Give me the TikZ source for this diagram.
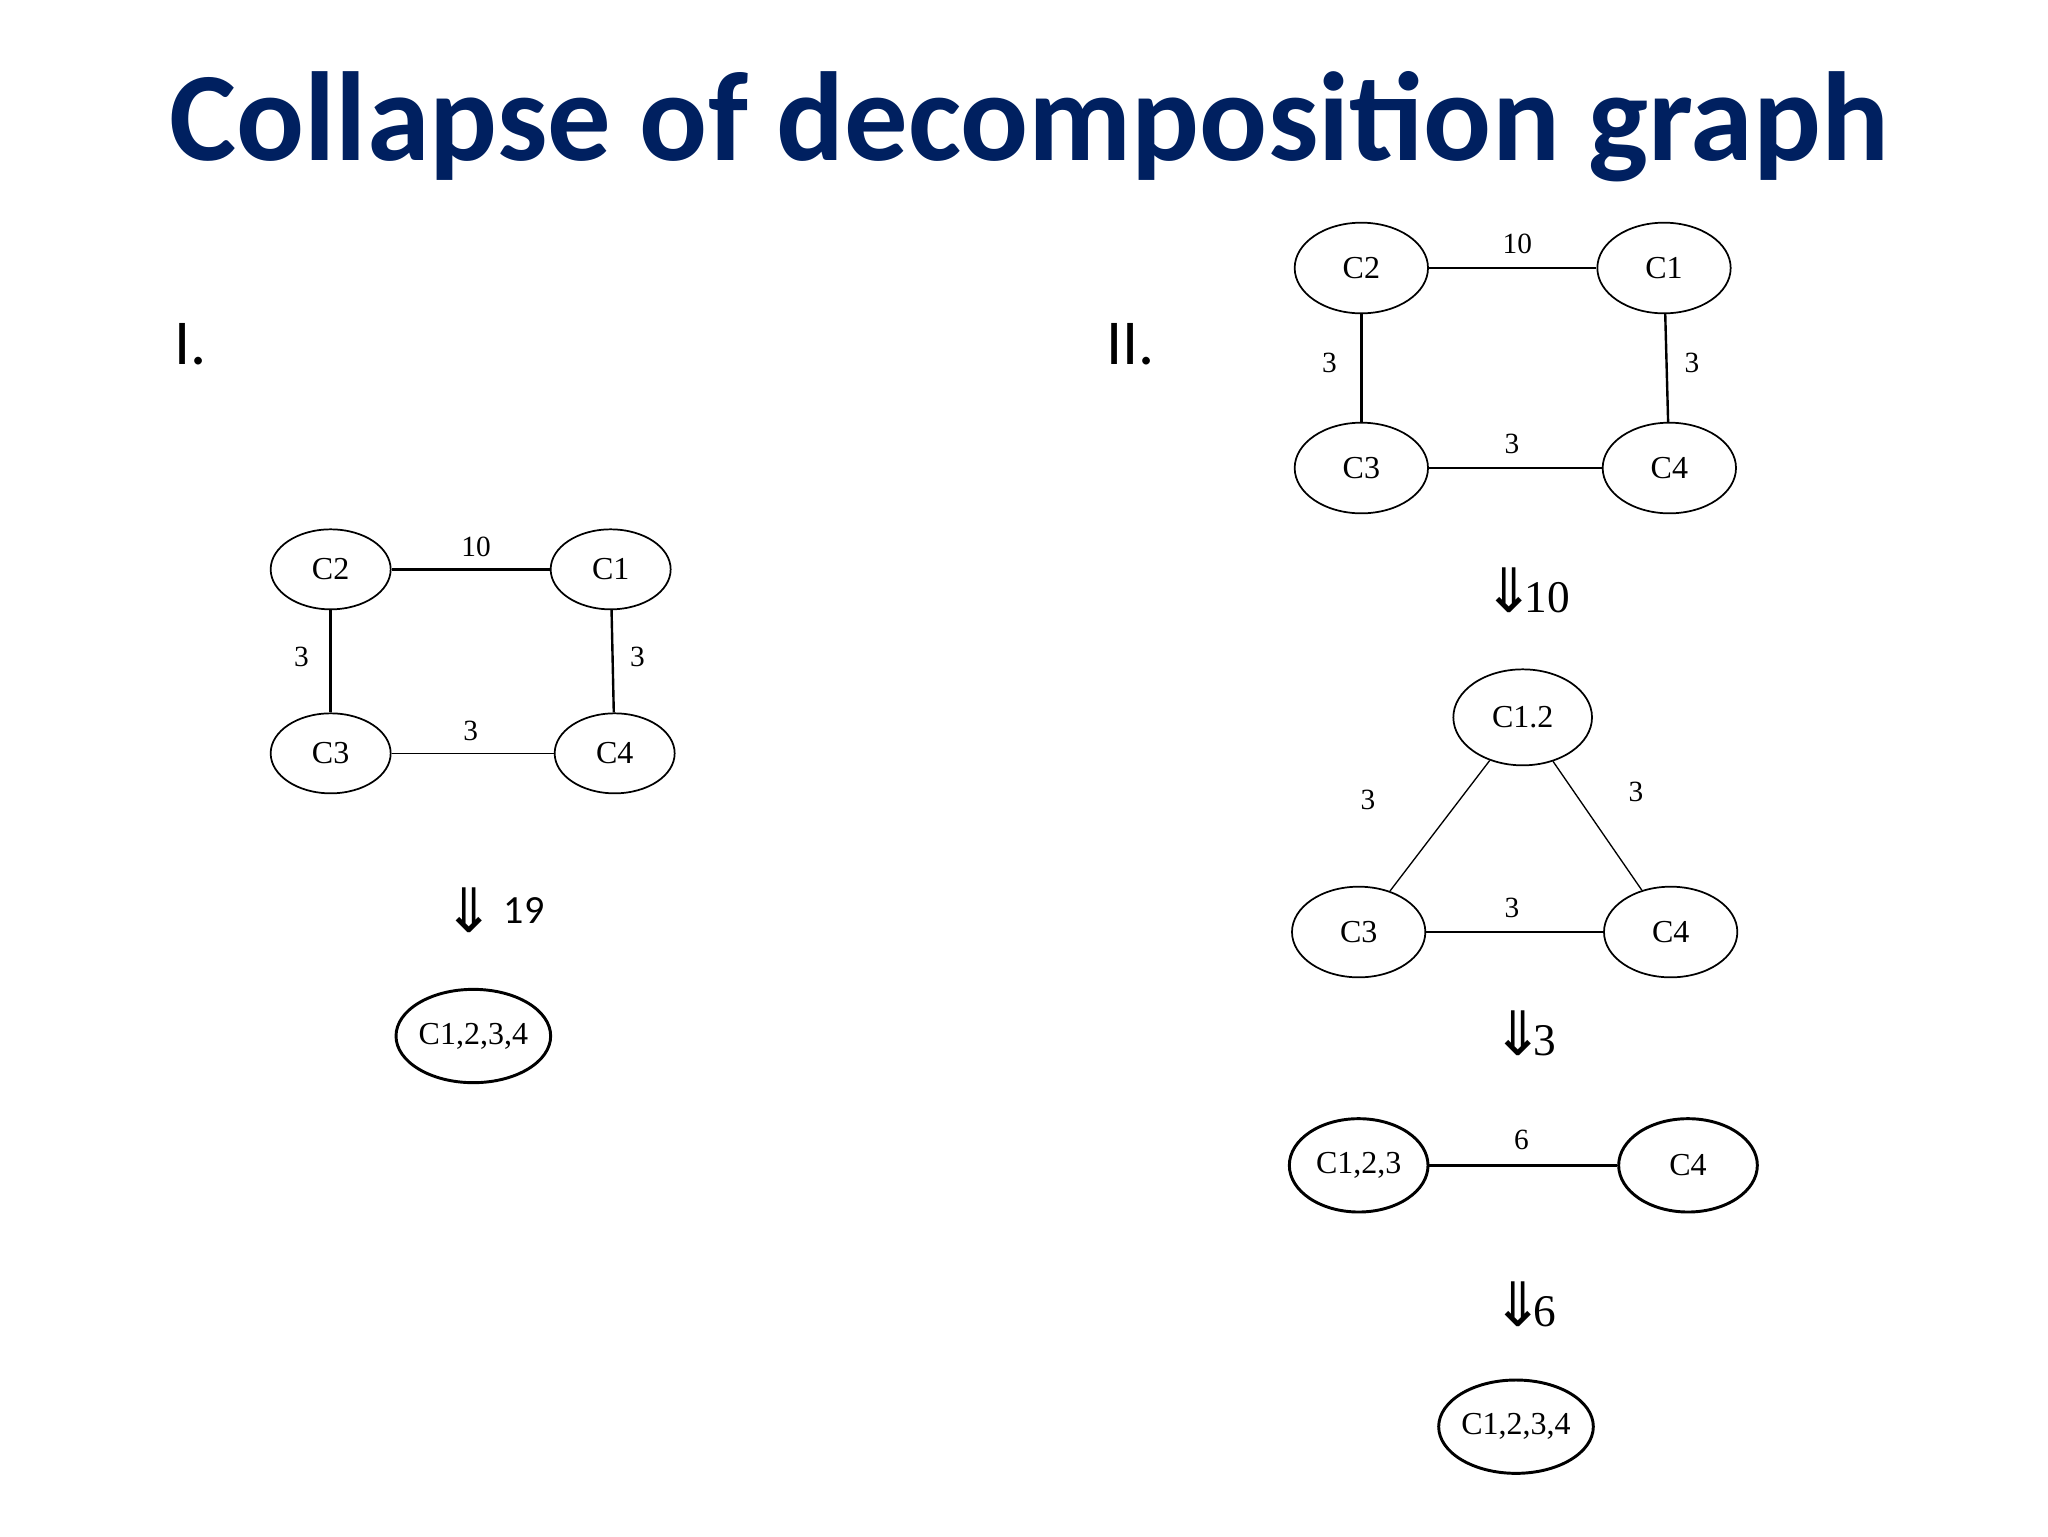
\documentclass[tikz,border=0pt]{standalone}
\usepackage{fontspec}
\usetikzlibrary{shapes.geometric}
\setmainfont{Liberation Serif}
\newfontfamily\titlefont{Carlito}
\newfontfamily\symfont{DejaVu Sans}
\definecolor{navy}{RGB}{0,32,96}
\begin{document}
\begin{tikzpicture}[x=1pt,y=-1pt,
  nd/.style={draw,ellipse,line width=1.3pt,minimum width=90pt,minimum height=60pt,inner sep=0pt,font=\fontsize{24}{24}\selectfont},
  bnd/.style={nd,minimum width=100pt,minimum height=68pt},
  thk/.style={line width=2.2pt},
  lab/.style={font=\fontsize{22}{22}\selectfont},
  arr/.style={font=\fontsize{34}{34}\selectfont},
  ed/.style={line width=1.8pt}]
\useasboundingbox (0,0) rectangle (1536,1152);
\node[font=\titlefont\bfseries\fontsize{95}{95}\selectfont,text=navy] (title) at (772,95) {Collapse of decomposition graph};
\node[font=\titlefont\fontsize{48}{48}\selectfont] (one) at (143,258) {I.};
\node[font=\titlefont\fontsize{48}{48}\selectfont] (two) at (848,258) {II.};
% left graph
\node[nd] (a2) at (248,427) {C2};
\node[nd] (a1) at (458,427) {C1};
\node[nd] (a3) at (248,565) {C3};
\node[nd] (a4) at (461,565) {C4};
\draw[ed] (a2) -- (a1); \draw[ed] (a2) -- (a3); \draw[ed] (a1) -- (a4); \draw[line width=0.8pt] (a3) -- (a4);
\node[lab] (l1) at (357,410) {10};
\node[lab] (l2) at (226,493) {3};
\node[lab] (l3) at (478,493) {3};
\node[lab] (l4) at (353,548) {3};
\node[font=\fontsize{46}{46}\selectfont] (ar1) at (352,683) {\symfont ⇓};
\node[font=\titlefont\fontsize{30}{30}\selectfont] (n19) at (393,683) {19};
\node[nd,thk,minimum width=104pt,minimum height=70pt] (a1234) at (355,777) {C1,2,3,4};
% right graph
\node[bnd] (b2) at (1021,201) {C2};
\node[bnd] (b1) at (1248,201) {C1};
\node[bnd] (b3) at (1021,351) {C3};
\node[bnd] (b4) at (1252,351) {C4};
\draw[ed] (b2) -- (b1); \draw[ed] (b2) -- (b3); \draw[ed] (b1) -- (b4); \draw[line width=0.8pt] (b3) -- (b4);
\node[lab] (m1) at (1138,183) {10};
\node[lab] (m2) at (997,272) {3};
\node[lab] (m3) at (1269,272) {3};
\node[lab] (m4) at (1134,333) {3};
\node[arr] (ar2) at (1145,443) {\fontsize{46}{46}\selectfont\symfont ⇓\hspace{-8pt}\fontsize{34}{34}\selectfont\rmfamily 10};
\node[bnd,minimum width=104pt,minimum height=72pt] (c12) at (1142,538) {C1.2};
\node[bnd] (c3) at (1019,699) {C3};
\node[bnd] (c4) at (1253,699) {C4};
\draw[line width=1pt] (c12) -- (c3); \draw[line width=1pt] (c12) -- (c4); \draw[line width=1pt] (c3) -- (c4);
\node[lab] (k1) at (1026,600) {3};
\node[lab] (k2) at (1227,594) {3};
\node[lab] (k3) at (1134,681) {3};
\node[arr] (ar3) at (1143,775) {\fontsize{46}{46}\selectfont\symfont ⇓\hspace{-8pt}\fontsize{34}{34}\selectfont\rmfamily 3};
\node[bnd,thk,minimum width=104pt,minimum height=70pt] (d123) at (1019,874) {C1,2,3};
\node[bnd,thk,minimum width=104pt,minimum height=70pt] (d4) at (1266,874) {C4};
\draw[thk] (d123) -- (d4);
\node[lab] (j1) at (1141,855) {6};
\node[arr] (ar4) at (1143,978) {\fontsize{46}{46}\selectfont\symfont ⇓\hspace{-8pt}\fontsize{34}{34}\selectfont\rmfamily 6};
\node[nd,thk,minimum width=104pt,minimum height=70pt] (e1234) at (1137,1070) {C1,2,3,4};
\end{tikzpicture}
\end{document}
